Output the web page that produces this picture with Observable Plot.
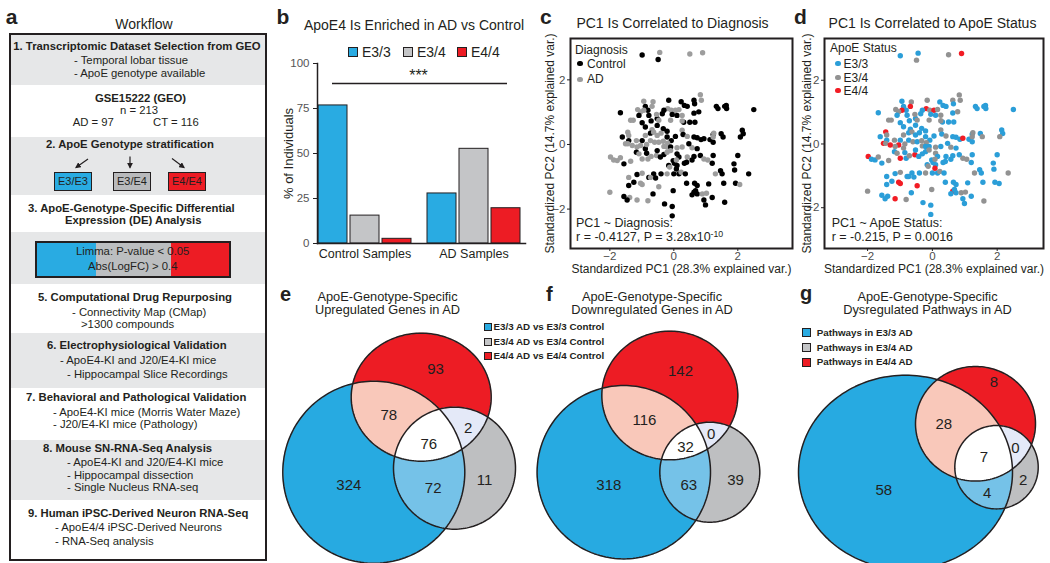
<!DOCTYPE html>
<html><head><meta charset="utf-8">
<script src="https://cdn.jsdelivr.net/npm/d3@7"></script>
<script src="https://cdn.jsdelivr.net/npm/@observablehq/plot@0.6"></script>
<style>
body{margin:0;background:#fff}
#fig{position:relative;width:1050px;height:563px;overflow:hidden;background:#fff;font-family:"Liberation Sans",Arial,Helvetica,sans-serif;color:#231f20}
#fig .t{position:absolute;white-space:nowrap}
#fig .blk{position:absolute;box-sizing:border-box}
</style>
</head><body><div id="fig"></div>
<script>
// ---------------- DATA ----------------
// b: ApoE genotype distribution (% of individuals)
const barGroups = ["Control Samples", "AD Samples"];
const genotypes = ["E3/3", "E3/4", "E4/4"];
const pctControl = [76.7, 15.5, 2.6];
const pctAD = [27.8, 52.6, 19.6];
const barYTicks = [0, 25, 50, 75, 100];
const sigLevel = 88.9;
const sigStars = "***";

// c/d: standardized PCA of 199 readable samples
const pc1 = [
-0.99,-0.44,-0.49,0.50,0.90,0.83,0.86,-0.16,0.23,0.63,
0.65,0.33,0.42,-0.94,-0.65,-0.68,-0.89,-1.13,-0.81,-0.94,
-1.04,-0.78,-1.09,-1.67,-0.19,-0.08,0.05,0.16,-0.31,-0.36,
0.10,-0.05,0.26,1.33,1.38,1.59,1.64,1.65,2.50,0.63,
0.78,-0.52,-0.54,-0.47,-1.35,-1.27,-0.99,-0.71,-0.10,0.31,
0.50,0.66,0.26,-0.33,-0.21,0.26,-0.68,-0.89,-0.52,2.14,
2.17,-1.44,-1.41,-1.61,-1.41,-1.51,-1.44,-1.17,-0.89,-0.99,
-0.73,-0.63,-0.52,-0.40,-0.21,-0.08,-0.73,-0.60,-0.47,-0.33,
-0.19,0.05,0.29,0.42,0.63,0.73,0.85,0.94,1.13,1.23,
1.48,1.54,1.23,1.25,1.23,2.08,-1.04,-1.15,-1.30,-0.89,
-0.85,-0.31,-0.21,-0.10,0.10,0.26,0.57,0.47,0.73,2.00,
-1.98,-1.88,-1.77,-1.67,-1.56,-1.35,-1.17,-1.09,-0.99,-0.85,
-0.81,-0.71,-0.54,-0.42,-0.52,-0.31,-0.21,-0.10,0.10,0.42,
0.16,0.40,0.57,0.63,0.83,1.23,1.20,0.94,1.06,-0.02,
0.02,0.08,-0.16,-0.13,0.10,0.33,1.88,1.90,2.34,-1.41,
-1.15,-0.99,-1.25,-1.41,-1.04,-0.99,-0.78,-0.63,-0.57,-0.73,
-0.40,-0.21,0.00,0.16,0.23,0.08,0.36,0.40,0.65,0.73,
1.09,1.30,1.46,1.51,1.56,1.93,2.06,-0.02,-0.47,0.63,
0.68,0.57,0.73,1.20,0.89,0.94,1.02,0.99,1.59,-2.00,
-1.56,-1.38,-1.46,-1.15,-0.65,-0.81,-0.29,-0.05,-0.05];
const pc2 = [
2.77,2.85,2.63,2.80,2.84,1.54,1.37,1.37,1.32,1.37,
1.26,1.21,1.18,1.34,1.32,1.18,1.18,1.08,1.06,1.06,
1.01,0.90,0.90,0.98,1.11,1.06,1.06,1.08,1.06,0.95,
0.90,0.93,0.90,1.18,1.11,1.18,1.21,1.11,1.08,0.97,
1.01,0.80,0.93,0.75,0.75,0.75,0.67,0.73,0.75,0.69,
0.69,0.69,0.73,0.49,0.41,0.44,0.46,0.54,0.59,0.44,
0.33,0.38,0.28,0.23,0.12,0.02,0.02,0.12,0.28,0.12,
0.35,0.38,0.28,0.35,0.23,0.12,0.12,0.07,0.07,0.10,
0.04,0.25,0.31,0.25,0.23,0.21,0.15,0.18,0.15,0.31,
0.33,0.23,0.07,0.35,0.23,0.23,-0.03,-0.08,-0.03,-0.13,
0.00,-0.06,-0.08,-0.08,-0.10,-0.08,-0.10,0.02,-0.13,-0.34,
-0.39,-0.48,-0.50,-0.41,-0.60,-0.52,-0.24,-0.29,-0.45,-0.27,
-0.45,-0.37,-0.34,-0.39,-0.19,-0.31,-0.24,-0.19,-0.29,-0.39,
-0.39,-0.55,-0.48,-0.37,-0.34,-0.34,-0.58,-0.45,-0.48,-0.50,
-0.58,-0.48,-0.65,-0.70,-0.65,-0.58,-0.60,-0.79,-0.91,-1.02,
-0.93,-0.89,-1.17,-1.27,-1.20,-1.24,-1.02,-0.91,-1.04,-1.02,
-0.91,-0.91,-0.91,-0.91,-0.86,-0.76,-0.91,-1.20,-1.20,-1.27,
-1.22,-0.91,-0.81,-0.91,-1.20,-1.20,-1.24,-1.43,-1.31,-1.48,
-1.43,-1.56,-1.53,-1.64,-1.53,-1.72,-1.51,-1.87,-1.79,-1.48,
-1.61,-1.64,-1.72,-1.72,-1.53,-1.74,-1.84,-1.92,-2.21];
// C = Control, A = AD
const diagnosisCode = (
"CACAAAACCC"+"CCCAAACACA"+"ACCCAAAACC"+"CCACCCCCCC"+"CCAAAACCAC"+
"CCACCAACCC"+"CAACCAAAAC"+"CAAACCAAAA"+"ACCACCCCCC"+"CCCAACAAAC"+
"AAACAAACCC"+"AAAACACAAC"+"AAACCCAACA"+"CCCCCCCAAC"+"CACACCCCCA"+
"CACCAACCCA"+"CACCACCCCC"+"CACCCCACAC"+"CCCCACACCA"+"CACACACCC").split("");
// 3 = E3/3, 4 = E3/4, 5 = E4/4
const apoeCode = (
"3344544434"+"3333453435"+"4333545433"+"3343333333"+"4344443343"+
"3343343333"+"3543354443"+"3433333434"+"4334333533"+"3434445454"+
"4433434333"+"5334343453"+"3453333443"+"3333333443"+"3434333343"+
"3433553333"+"3433453333"+"3433333455"+"3333434344"+"333534333").split("");
const diagnosisLabels = {C: "Control", A: "AD"};
const apoeLabels = {"3": "E3/3", "4": "E3/4", "5": "E4/4"};
const pcTicks = [-2, 0, 2];

// e/f/g: Venn region counts (B=E3/3, R=E4/4, G=E3/4)
const vennRegions = ["B", "G", "R", "BR", "BG", "RG", "BRG"];
const upCounts = [324, 11, 93, 78, 72, 2, 76];
const downCounts = [318, 39, 142, 116, 63, 0, 32];
const pathwayCounts = [58, 2, 8, 28, 4, 0, 7];

// ---------------- STYLE / LAYOUT ----------------
const ink = "#231f20";
const cBlue = "#29abe2", cGrey = "#c4c5c7", cRed = "#ed1c24";
const barColors = {"E3/3": cBlue, "E3/4": cGrey, "E4/4": cRed};
const vennFill = {B: "#27aae1", G: "#bebfc1", R: "#ed1c24", BR: "#f9c8ba", BG: "#75c2e8", RG: "#e4e9f8", BRG: "#ffffff"};
const font = "Liberation Sans, Arial, Helvetica, sans-serif";
const fig = document.getElementById("fig");

function put(node, left, top) {
  node.style.position = "absolute"; node.style.left = left + "px"; node.style.top = top + "px";
  fig.appendChild(node); return node;
}
function txt(x, base, html, o = {}) {
  const size = o.size ?? 12;
  const d = document.createElement("div");
  d.className = "t";
  d.style.left = x + "px";
  d.style.top = (base - 0.8465 * size) + "px";
  d.style.fontSize = size + "px";
  d.style.lineHeight = size + "px";
  if (o.bold) d.style.fontWeight = "bold";
  if (o.color) d.style.color = o.color;
  if (o.anchor === "middle") d.style.transform = "translateX(-50%)";
  d.innerHTML = html;
  fig.appendChild(d); return d;
}
function blk(x, y, w, h, css) {
  const d = document.createElement("div");
  d.className = "blk";
  Object.assign(d.style, {left: x + "px", top: y + "px", width: w + "px", height: h + "px"}, css);
  fig.appendChild(d); return d;
}
const sty = {fontFamily: font, fontSize: "12px", color: ink, background: "transparent", overflow: "visible"};
const intFmt = d => (d < 0 ? "\u2212" + (-d) : String(d));

// ---------------- a: Workflow ----------------
txt(8 - 2.3, 24, "a", {size: 21, bold: true});
txt(144, 29, "Workflow", {size: 14, anchor: "middle"});
blk(9, 33, 258, 528, {border: "2px solid " + ink, background: "#fff"});
for (const [y0, y1] of [[35, 85], [137, 195], [232, 284], [333, 388], [440, 500]]) {
  blk(11, y0, 254, y1 - y0, {background: "#e6e7e8"});
}
const wf = [
  [13.3, 47, "1. Transcriptomic Dataset Selection from GEO", 1],
  [74, 61, "- Temporal lobar tissue"],
  [74, 74, "- ApoE genotype available"],
  [95, 99, "GSE15222 (GEO)", 1],
  [120, 111, "n = 213"],
  [72.7, 123, "AD = 97"],
  [153, 123, "CT = 116"],
  [46, 145, "2. ApoE Genotype stratification", 1],
  [28, 209, "3. ApoE-Genotype-Specific Differential", 1],
  [65, 221, "Expression (DE) Analysis", 1],
  [38, 298, "5. Computational Drug Repurposing", 1],
  [72, 313, "- Connectivity Map (CMap)"],
  [81, 325, "&gt;1300 compounds"],
  [47, 346, "6. Electrophysiological Validation", 1],
  [60, 361, "- ApoE4-KI and J20/E4-KI mice"],
  [67, 375, "- Hippocampal Slice Recordings"],
  [26, 398, "7. Behavioral and Pathological Validation", 1],
  [53, 413, "- ApoE4-KI mice (Morris Water Maze)"],
  [53, 425, "- J20/E4-KI mice (Pathology)"],
  [43, 449, "8. Mouse SN-RNA-Seq Analysis", 1],
  [67, 463, "- ApoE4-KI and J20/E4-KI mice"],
  [67, 476, "- Hippocampal dissection"],
  [67, 488, "- Single Nucleus RNA-seq"],
  [28, 514, "9. Human iPSC-Derived Neuron RNA-Seq", 1],
  [55, 528, "- ApoE4/4 iPSC-Derived Neurons"],
  [55, 542, "- RNA-Seq analysis"]
];
for (const [x, cy, s, b] of wf) txt(x, cy + 4, s, {size: 11.3, bold: !!b});
// genotype boxes
[[54, "E3/E3", cBlue], [113, "E3/E4", "#b9babc"], [168, "E4/E4", cRed]].forEach(([x, s, c]) => {
  const d = blk(x, 172, 38, 19, {border: "1.5px solid " + ink, background: c, fontSize: "11px", lineHeight: "16px", textAlign: "center"});
  d.textContent = s;
});
// arrows
{
  const ns = "http://www.w3.org/2000/svg";
  const s = document.createElementNS(ns, "svg");
  s.setAttribute("width", 260); s.setAttribute("height", 30);
  s.innerHTML = `<defs><marker id="ah" viewBox="0 0 10 10" refX="8" refY="5" markerWidth="5" markerHeight="5" orient="auto"><path d="M0,0L10,5L0,10z" fill="${ink}"/></marker></defs>
  <g stroke="${ink}" stroke-width="1.2" marker-end="url(#ah)">
  <line x1="88" y1="9" x2="76" y2="17.5"/><line x1="130" y1="6.5" x2="130" y2="17.5"/><line x1="172" y1="8.5" x2="184" y2="17.5"/></g>`;
  put(s, 0, 150);
}
// DE box
blk(35, 241, 196, 37, {border: "2px solid " + ink, background: `linear-gradient(to right, ${cBlue} 0 30.5%, #bcbec0 30.5% 70%, ${cRed} 70% 100%)`});
txt(76, 256, "Limma: P-value &lt; 0.05", {size: 11.3});
txt(88, 271, "Abs(LogFC) &gt; 0.4", {size: 11.3});

// ---------------- b: bar chart ----------------
const barRows = [];
barGroups.forEach((g, gi) => genotypes.forEach((t, ti) => barRows.push({group: g, genotype: t, pct: (gi ? pctAD : pctControl)[ti]})));
const barInsets = [[0, 64], [32, 32], [64, 0]];
const barPlot = Plot.plot({
  width: 255, height: 207, marginLeft: 42, marginRight: 5, marginTop: 5, marginBottom: 22,
  style: sty,
  x: {domain: barGroups, paddingInner: 0.147, paddingOuter: 0.0275, align: 0.2},
  y: {domain: [0, 100]},
  marks: [
    ...genotypes.map((g, i) => Plot.barY(barRows.filter(d => d.genotype === g), {
      x: "group", y: "pct", fill: barColors[g], stroke: ink, strokeWidth: 1,
      insetLeft: barInsets[i][0], insetRight: barInsets[i][1]})),
    Plot.axisY({ticks: barYTicks, tickSize: 4, tickPadding: 4, fontSize: 11.5, fill: "#555", stroke: ink, label: null, tickFormat: intFmt}),
    Plot.axisX({tickSize: 0, tickPadding: 6, fontSize: 12.5, fill: ink, label: null}),
    Plot.frame({anchor: "left", stroke: ink, strokeWidth: 1.5}),
    Plot.frame({anchor: "bottom", stroke: ink, strokeWidth: 1.5}),
    Plot.ruleY([sigLevel], {insetLeft: 15, insetRight: 18, stroke: ink, strokeWidth: 1.5}),
    Plot.text([sigStars], {y: [93], frameAnchor: "middle", dx: -3, fontSize: 16, fill: ink}),
    Plot.text(["% of Individuals"], {frameAnchor: "left", textAnchor: "middle", lineAnchor: "middle", rotate: -90, dx: -29, fontSize: 13, fill: ink})
  ]
});
put(barPlot, 275, 58);

// ---------------- c/d: PCA scatter ----------------
const idx = d3.range(pc1.length);
function pca(colorSpec, fillFn, xd, yd, w, mL, mR, yTitleOff) {
  return Plot.plot({
    width: w, height: 250, marginLeft: mL, marginRight: mR, marginTop: 8, marginBottom: 32,
    style: sty,
    x: {domain: xd}, y: {domain: yd},
    color: colorSpec,
    marks: [
      Plot.dot(idx, {x: i => pc1[i], y: i => pc2[i], fill: fillFn, r: 2.7}),
      Plot.frame({stroke: ink, strokeWidth: 2}),
      Plot.axisX({ticks: pcTicks, tickFormat: intFmt, tickSize: 3, tickPadding: 0, fontSize: 11.5, fill: "#4d4d4d", stroke: ink, label: null}),
      Plot.axisY({ticks: pcTicks, tickFormat: intFmt, tickSize: 3, tickPadding: 2, fontSize: 11.5, fill: "#4d4d4d", stroke: ink, label: null}),
      Plot.text(["Standardized PC1 (28.3% explained var.)"], {frameAnchor: "bottom", textAnchor: "middle", lineAnchor: "middle", dy: 21, fontSize: 12, fill: ink}),
      Plot.text(["Standardized PC2 (14.7% explained var.)"], {frameAnchor: "left", textAnchor: "middle", lineAnchor: "middle", rotate: -90, dx: yTitleOff, fontSize: 12, fill: ink})
    ]
  });
}
const diagColors = {domain: ["Control", "AD"], range: ["#000000", "#9d9d9d"]};
const apoeColors = {domain: ["E3/3", "E3/4", "E4/4"], range: ["#2b9ed8", "#929292", "#f21c24"]};
put(pca(diagColors, i => diagnosisLabels[diagnosisCode[i]], [-3.23, 3.71], [-3.22, 3.28], 265, 40, 3, -20), 530, 30);
put(pca(apoeColors, i => apoeLabels[apoeCode[i]], [-3.33, 3.43], [-3.28, 3.31], 258, 34, 5, -17), 790, 30);

// ---------------- e/f/g: Venn diagrams ----------------
const vennLayouts = [
  {left: 278, top: 318, w: 258, h: 245,
   B: [373.3, 471.7, 91, 91], R: [420.7, 396.7, 70, 64], G: [454, 467.7, 61, 61],
   labels: {B: [348.3, 485], G: [484, 480], R: [435, 368.3], BR: [388.3, 414.3], BG: [432.7, 487.7], RG: [467.7, 427.7], BRG: [428.3, 443.3]}},
  {left: 536, top: 318, w: 256, h: 245,
   B: [623.3, 471.7, 86.7, 86.7], R: [669.3, 395, 68, 64.3], G: [709.3, 471.7, 50, 50],
   labels: {B: [608.3, 484.3], G: [735, 480], R: [680, 371], BR: [644, 420], BG: [688.3, 484.3], RG: [710.7, 433.3], BRG: [685, 446.7]}},
  {left: 792, top: 318, w: 258, h: 245,
   B: [905, 471.7, 107, 97], R: [975, 423.3, 60, 57.3], G: [996, 466.7, 41.7, 41.7],
   labels: {B: [883.3, 490], G: [1022.7, 479.3], R: [993.3, 381.7], BR: [943.3, 423.3], BG: [986.7, 492.3], RG: [1015, 447.3], BRG: [983.3, 456.7]}}
];
function venn(L, counts) {
  const inside = (e, x, y) => ((x - e[0]) / e[2]) ** 2 + ((y - e[1]) / e[3]) ** 2 <= 1;
  const region = (x, y) => {
    const k = (inside(L.B, x, y) ? "B" : "") + (inside(L.R, x, y) ? "R" : "") + (inside(L.G, x, y) ? "G" : "");
    return k ? vennFill[k] : "#ffffff";
  };
  const outline = [];
  for (const s of ["B", "R", "G"]) {
    const e = L[s];
    for (let a = 0; a <= 360; a += 2) {
      const t = a * Math.PI / 180;
      outline.push({s, x: e[0] + e[2] * Math.cos(t), y: e[1] + e[3] * Math.sin(t)});
    }
  }
  const labels = vennRegions.map((k, i) => ({x: L.labels[k][0], y: L.labels[k][1], n: String(counts[i])}));
  return Plot.plot({
    width: L.w, height: L.h, margin: 0, style: sty,
    x: {domain: [L.left, L.left + L.w], range: [0, L.w], axis: null},
    y: {domain: [L.top, L.top + L.h], range: [0, L.h], axis: null},
    color: {type: "identity"},
    marks: [
      Plot.raster({x1: L.left, x2: L.left + L.w, y1: L.top, y2: L.top + L.h, width: L.w * 2, height: L.h * 2, fill: region, imageRendering: "auto"}),
      Plot.line(outline, {x: "x", y: "y", z: "s", stroke: ink, strokeWidth: 1.5}),
      Plot.text(labels, {x: "x", y: "y", text: "n", fontSize: 15, fill: ink})
    ]
  });
}
[upCounts, downCounts, pathwayCounts].forEach((c, i) => put(venn(vennLayouts[i], c), vennLayouts[i].left, vennLayouts[i].top));

// ---------------- overlay texts ----------------
// b
txt(278 - 1.5, 24, "b", {size: 21, bold: true});
txt(414, 30, "ApoE4 Is Enriched in AD vs Control", {size: 14, anchor: "middle"});
[[348, "E3/3", cBlue], [403, "E3/4", cGrey], [457, "E4/4", cRed]].forEach(([x, s, c]) => {
  blk(x, 47, 10, 10, {border: "1.5px solid " + ink, background: c});
  txt(x + 14, 57, s, {size: 14});
});
// c
txt(541 - 1, 23.5, "c", {size: 21, bold: true});
txt(672.5, 28, "PC1 Is Correlated to Diagnosis", {size: 14, anchor: "middle"});
txt(575, 54.3, "Diagnosis", {size: 12});
[[63.5, "Control", "#000000"], [79.2, "AD", "#9d9d9d"]].forEach(([cy, s, c]) => {
  blk(577.3, cy - 2.7, 5.4, 5.4, {background: c, borderRadius: "50%"});
  txt(587, cy + 4.3, s, {size: 12});
});
txt(576, 227.5, "PC1 ~ Diagnosis:", {size: 12.5});
txt(576, 241.5, 'r = -0.4127, P = 3.28x10<span style="position:relative;top:-0.45em;font-size:0.7em">-10</span>', {size: 12.5});
// d
txt(795 - 1, 24, "d", {size: 21, bold: true});
txt(932.5, 28, "PC1 Is Correlated to ApoE Status", {size: 14, anchor: "middle"});
txt(830, 52.6, "ApoE Status", {size: 12});
[[63.5, "E3/3", "#2b9ed8"], [77.5, "E3/4", "#929292"], [90.5, "E4/4", "#f21c24"]].forEach(([cy, s, c]) => {
  blk(835.3, cy - 2.7, 5.4, 5.4, {background: c, borderRadius: "50%"});
  txt(843.5, cy + 4.3, s, {size: 12});
});
txt(831.7, 227.5, "PC1 ~ ApoE Status:", {size: 12.5});
txt(831.7, 241.5, "r = -0.215, P = 0.0016", {size: 12.5});
// e
txt(280, 300.5, "e", {size: 20, bold: true});
txt(387.5, 301.5, "ApoE-Genotype-Specific", {size: 12.8, anchor: "middle"});
txt(387.5, 315, "Upregulated Genes in AD", {size: 12.8, anchor: "middle"});
[[327, "E3/3 AD vs E3/3 Control", cBlue], [342, "E3/4 AD vs E3/4 Control", cGrey], [356, "E4/4 AD vs E4/4 Control", cRed]].forEach(([cy, s, c]) => {
  blk(484, cy - 4, 8, 8, {border: "1.3px solid " + ink, background: c});
  txt(493.5, cy + 3.5, s, {size: 9.8, bold: true});
});
// f
txt(546, 301, "f", {size: 20, bold: true});
txt(652, 301.5, "ApoE-Genotype-Specific", {size: 12.8, anchor: "middle"});
txt(652, 315, "Downregulated Genes in AD", {size: 12.8, anchor: "middle"});
// g
txt(800, 300, "g", {size: 20, bold: true});
txt(927.5, 301.5, "ApoE-Genotype-Specific", {size: 12.8, anchor: "middle"});
txt(927.5, 315, "Dysregulated Pathways in AD", {size: 12.8, anchor: "middle"});
[[332.7, "Pathways in E3/3 AD", cBlue], [347.5, "Pathways in E3/4 AD", cGrey], [362, "Pathways in E4/4 AD", cRed]].forEach(([cy, s, c]) => {
  blk(801.7, cy - 4.5, 9, 9, {border: "1.3px solid " + ink, background: c});
  txt(816.7, cy + 3.5, s, {size: 9.8, bold: true});
});
</script>
</body></html>
